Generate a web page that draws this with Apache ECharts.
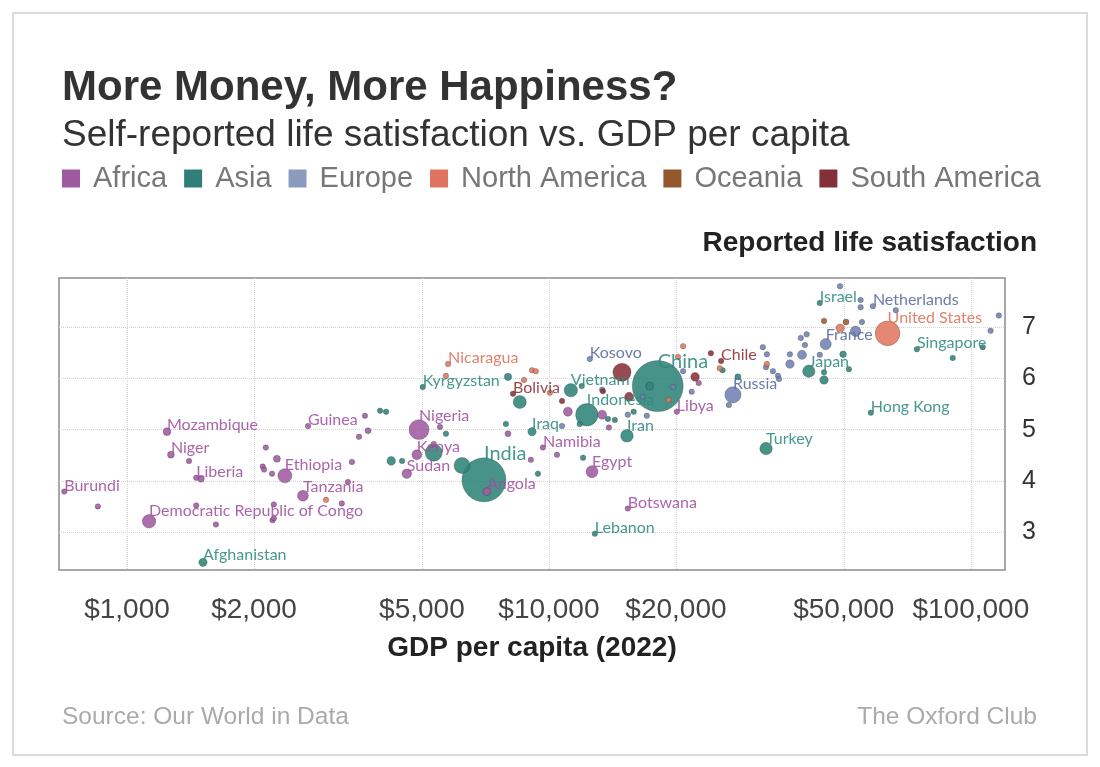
<!DOCTYPE html>
<html>
<head>
<meta charset="utf-8">
<script src="https://cdn.jsdelivr.net/npm/echarts@6/dist/echarts.min.js"></script>
<style>
  html, body { margin: 0; padding: 0; background: #fff; }
  #chart { width: 1100px; height: 767px; }
</style>
</head>
<body>
<div id="chart"></div>
<script>
// rows: [country, GDP per capita ($, 2022), life satisfaction, population (millions)]
const africa = [
  ['Burundi', 710, 3.79, 13], ['', 853, 3.50, 6], ['Democratic Republic of Congo', 1128, 3.21, 99],
  ['Mozambique', 1244, 4.96, 33], ['Niger', 1271, 4.51, 26], ['', 1403, 4.39, 8],
  ['Liberia', 1459, 4.06, 6], ['', 1497, 4.04, 25], ['', 1459, 3.52, 8], ['', 1625, 3.15, 8],
  ['', 2133, 4.65, 8], ['', 2266, 4.43, 27], ['', 2098, 4.28, 8], ['', 2113, 4.22, 8],
  ['', 2207, 4.14, 8], ['Ethiopia', 2367, 4.10, 110], ['', 2229, 3.54, 6], ['', 2213, 3.23, 8],
  ['', 2229, 3.27, 6], ['Tanzania', 2612, 3.71, 65], ['', 3229, 3.56, 8], ['', 3339, 3.98, 8],
  ['', 3413, 4.37, 8], ['Guinea', 2686, 5.07, 8], ['', 3664, 5.27, 8], ['', 3727, 4.98, 20],
  ['', 3548, 4.86, 8], ['Sudan', 4604, 4.14, 50], ['Nigeria', 4921, 5.00, 218], ['', 5518, 5.05, 10],
  ['Kenya', 4864, 4.51, 54], ['', 5333, 4.72, 6], ['Angola', 7130, 3.79, 35], ['', 7998, 4.92, 20],
  ['Namibia', 9680, 4.65, 6], ['', 9060, 4.41, 6], ['', 10450, 4.51, 6], ['Egypt', 12650, 4.18, 79],
  ['Botswana', 15380, 3.46, 6], ['', 11090, 5.35, 45], ['', 13370, 5.29, 45], ['', 13870, 5.04, 6],
  ['Libya', 20100, 5.35, 6], ['', 22650, 5.91, 6]
];
const asia = [
  ['Afghanistan', 1514, 2.41, 38], ['', 3981, 5.37, 8], ['', 4112, 5.35, 6], ['', 4229, 4.39, 40],
  ['', 4487, 4.39, 6], ['Kyrgyzstan', 5024, 5.83, 7], ['', 5333, 4.55, 160], ['', 5700, 4.92, 6],
  ['', 6223, 4.30, 140], ['India', 7015, 4.02, 1060], ['', 7907, 5.11, 6], ['', 7998, 6.03, 30],
  ['', 8530, 5.54, 95], ['Iraq', 9120, 4.96, 38], ['', 9420, 4.14, 6], ['Vietnam', 11270, 5.77, 98],
  ['', 11960, 5.85, 6], ['', 11830, 5.11, 6], ['', 12050, 4.45, 8], ['Indonesia', 12300, 5.29, 275],
  ['Lebanon', 12850, 2.97, 6], ['', 13800, 5.21, 6], ['', 14330, 5.19, 6], ['', 15880, 5.35, 6],
  ['Iran', 15310, 4.88, 88], ['China', 18110, 5.85, 1425], ['', 17330, 5.85, 35], ['', 25800, 6.16, 6],
  ['', 28050, 6.03, 20], ['Turkey', 32700, 4.63, 85], ['Japan', 41300, 6.14, 83], ['', 44880, 6.12, 6],
  ['', 44880, 5.97, 40], ['Israel', 43850, 7.47, 9], ['', 49800, 6.47, 24], ['', 51400, 6.18, 8],
  ['Hong Kong', 57950, 5.33, 7], ['Singapore', 74500, 6.57, 8], ['', 90600, 6.40, 6], ['', 106700, 6.61, 8]
];
const europe = [
  ['', 10740, 5.07, 6], ['Kosovo', 12500, 6.38, 6], ['', 13370, 5.78, 6], ['', 16700, 5.64, 6],
  ['', 15380, 5.29, 6], ['', 17060, 5.27, 6], ['', 19690, 5.83, 6], ['', 20800, 6.14, 6],
  ['', 21800, 5.74, 6], ['Russia', 27300, 5.68, 144], ['', 26700, 5.48, 6], ['', 32140, 6.61, 6],
  ['', 32860, 6.47, 6], ['', 32700, 6.22, 6], ['', 33960, 6.14, 6], ['', 34900, 6.05, 6],
  ['', 35100, 5.99, 6], ['', 37260, 6.47, 10], ['', 37260, 6.28, 40], ['', 39800, 6.46, 45],
  ['', 39540, 6.79, 6], ['', 40820, 6.86, 6], ['', 40440, 6.65, 8], ['', 43850, 6.46, 8],
  ['France', 45300, 6.67, 68], ['', 48980, 7.80, 6], ['', 54800, 7.53, 6], ['', 54800, 7.39, 6],
  ['Netherlands', 58600, 7.41, 10], ['', 55200, 7.10, 6], ['', 53300, 6.92, 60], ['', 66400, 7.33, 6],
  ['', 116500, 7.23, 6], ['', 111400, 6.93, 6]
];
const northAmerica = [
  ['', 2963, 3.63, 6], ['', 5700, 6.05, 5], ['Nicaragua', 5769, 6.28, 7], ['', 9120, 6.16, 7],
  ['', 9310, 6.14, 7], ['', 8730, 5.97, 6], ['', 10050, 5.72, 6], ['', 19220, 5.58, 6],
  ['', 20230, 6.42, 6], ['', 20800, 6.63, 8], ['', 25400, 6.20, 6], ['', 32860, 6.28, 8],
  ['', 49000, 6.98, 38], ['United States', 63500, 6.88, 335]
];
const oceania = [
  ['', 44880, 7.12, 8], ['', 50600, 7.10, 20]
];
const southAmerica = [
  ['Bolivia', 8222, 5.70, 8], ['', 10740, 5.56, 6], ['', 13430, 5.75, 6], ['', 14900, 6.12, 180],
  ['', 15490, 5.64, 44], ['', 24200, 6.49, 6], ['', 22200, 6.03, 41], ['Chile', 25590, 6.34, 8]
];

const regions = ['Africa', 'Asia', 'Europe', 'North America', 'Oceania', 'South America'];
const xTicks = [1000, 2000, 5000, 10000, 20000, 50000, 100000];
const yTicks = [3, 4, 5, 6, 7];
const xRange = [690, 120500];
const yRange = [2.26, 7.96];

const palette = {
  'Africa':        { point: '#a05aa0', legend: '#9d5aa0', label: '#a14fa0' },
  'Asia':          { point: '#2f8479', legend: '#2f7f78', label: '#2e8a7e' },
  'Europe':        { point: '#7182b3', legend: '#8a9bbd', label: '#5669a0' },
  'North America': { point: '#e0775f', legend: '#e0735f', label: '#e07058' },
  'Oceania':       { point: '#9a5a30', legend: '#95572e', label: '#95572e' },
  'South America': { point: '#8a3039', legend: '#843038', label: '#8c2c33' }
};
const bigLabels = { 'India': 20, 'China': 20 };

const chart = echarts.init(document.getElementById('chart'));

function makeSeries(name, rows) {
  const c = palette[name];
  return {
    name: name,
    type: 'scatter',
    data: rows.slice().sort((a, b) => b[3] - a[3]).map(r => {
      const item = { name: r[0], value: [Math.log10(r[1]), r[2], r[3]] };
      if (bigLabels[r[0]]) item.label = { fontSize: bigLabels[r[0]], distance: r[0] === 'China' ? -11 : -6 };
      return item;
    }),
    symbolSize: v => Math.max(5.5, 1.35 * Math.sqrt(v[2])),
    itemStyle: { color: c.point, opacity: 0.88, borderColor: 'rgba(40,40,40,0.45)', borderWidth: 0.7 },
    label: {
      show: true,
      formatter: p => p.name,
      position: 'top',
      align: 'left',
      distance: -5,
      color: c.label,
      fontFamily: 'Lato',
      fontSize: 16
    },
    emphasis: { disabled: true }
  };
}

const textFont = "'Liberation Sans', Arial, sans-serif";

chart.setOption({
  backgroundColor: '#fff',
  animation: false,
  legend: {
    left: 62,
    top: 164,
    padding: 0,
    icon: 'rect',
    itemWidth: 18,
    itemHeight: 18,
    itemGap: 17,
    selectedMode: false,
    data: regions.map(r => ({ name: r, itemStyle: { color: palette[r].legend, borderWidth: 0, opacity: 1 } })),
    textStyle: { color: '#777', fontSize: 29, fontFamily: textFont, padding: [0, 0, 0, 8] }
  },
  grid: {
    left: 59, right: 95, top: 278, bottom: 197,
    show: true, borderColor: '#8c8c8c', borderWidth: 1.5
  },
  xAxis: {
    type: 'value',
    min: Math.log10(xRange[0]),
    max: Math.log10(xRange[1]),
    axisLine: { show: false },
    axisTick: { show: false, customValues: xTicks.map(Math.log10) },
    axisLabel: {
      customValues: xTicks.map(Math.log10),
      formatter: v => '$' + Math.round(Math.pow(10, v)).toLocaleString('en-US'),
      color: '#444', fontSize: 28, fontFamily: textFont, margin: 26
    },
    splitLine: { show: true, lineStyle: { type: 'dotted', color: '#d4d4d4', width: 1 } }
  },
  yAxis: {
    type: 'value',
    position: 'right',
    min: yRange[0],
    max: yRange[1],
    axisLine: { show: false },
    axisTick: { show: false, customValues: yTicks },
    axisLabel: { customValues: yTicks, color: '#333', fontSize: 25, fontFamily: textFont, margin: 17 },
    splitLine: { show: true, lineStyle: { type: 'dotted', color: '#d4d4d4', width: 1 } }
  },
  graphic: [
    { type: 'rect', shape: { x: 13, y: 13, width: 1074, height: 742 },
      style: { fill: 'none', stroke: '#cfcfcf', lineWidth: 1.5 }, silent: true },
    { type: 'text', x: 62, y: 88, style: { text: 'More Money, More Happiness?', fill: '#333',
      font: "bold 42px 'Liberation Sans', Arial, sans-serif", textVerticalAlign: 'middle' } },
    { type: 'text', x: 62, y: 136, style: { text: 'Self-reported life satisfaction vs. GDP per capita', fill: '#333',
      font: "37px 'Liberation Sans', Arial, sans-serif", textVerticalAlign: 'middle' } },
    { type: 'text', x: 1037, y: 243, style: { text: 'Reported life satisfaction', fill: '#222',
      font: "bold 28px 'Liberation Sans', Arial, sans-serif", textAlign: 'right', textVerticalAlign: 'middle' } },
    { type: 'text', x: 532, y: 648, style: { text: 'GDP per capita (2022)', fill: '#222',
      font: "bold 28px 'Liberation Sans', Arial, sans-serif", textAlign: 'center', textVerticalAlign: 'middle' } },
    { type: 'text', x: 62, y: 717, style: { text: 'Source: Our World in Data', fill: '#aaa',
      font: "24.5px 'Liberation Sans', Arial, sans-serif", textVerticalAlign: 'middle' } },
    { type: 'text', x: 1037, y: 717, style: { text: 'The Oxford Club', fill: '#aaa',
      font: "24.5px 'Liberation Sans', Arial, sans-serif", textAlign: 'right', textVerticalAlign: 'middle' } }
  ],
  series: [
    makeSeries('Asia', asia),
    makeSeries('Europe', europe),
    makeSeries('North America', northAmerica),
    makeSeries('Oceania', oceania),
    makeSeries('South America', southAmerica),
    makeSeries('Africa', africa)
  ]
});
</script>
</body>
</html>
